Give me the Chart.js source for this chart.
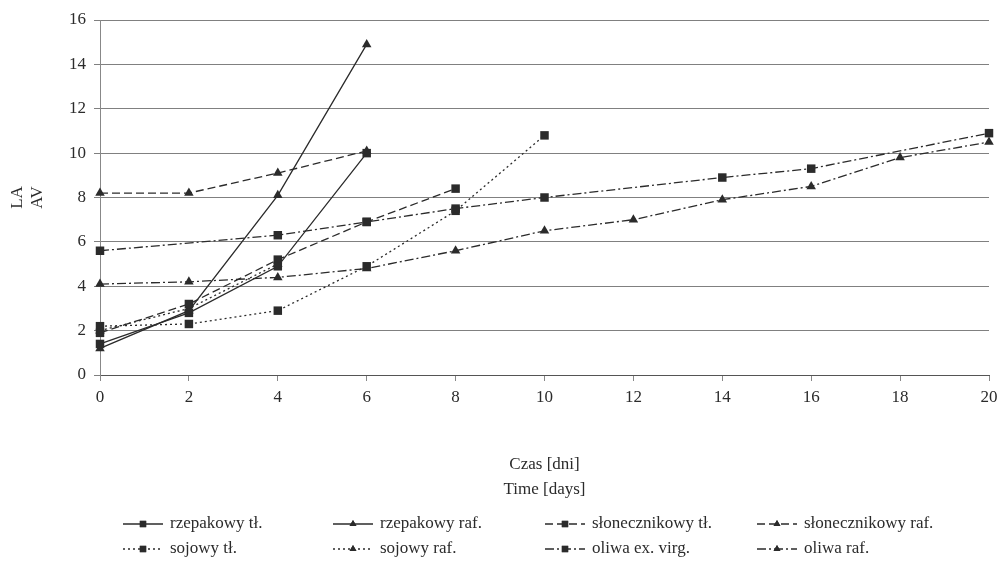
<!DOCTYPE html>
<html>
<head>
<meta charset="utf-8">
<script src="https://cdn.jsdelivr.net/npm/chart.js@4/dist/chart.umd.min.js"></script>
<style>
	body { margin: 0; background: #fff; }
	#chart { display: block; }
</style>
</head>
<body>
<canvas id="chart" width="1000" height="567"></canvas>
<script>
// data
var days = [0, 2, 4, 6, 8, 10, 12, 14, 16, 18, 20];
var yTicks = [0, 2, 4, 6, 8, 10, 12, 14, 16];
var names = ["rzepakowy tł.", "rzepakowy raf.", "słonecznikowy tł.", "słonecznikowy raf.",
	"sojowy tł.", "sojowy raf.", "oliwa ex. virg.", "oliwa raf."];
var rzepakowyTl = [1.4, 2.8, 4.9, 10.0];
var rzepakowyRaf = [1.2, 2.9, 8.1, 14.9];
var slonecznikowyTl = [1.9, 3.2, 5.2, 6.9, 8.4];
var slonecznikowyRaf = [8.2, 8.2, 9.1, 10.1];
var sojowyTl = [2.2, 2.3, 2.9, 4.9, 7.4, 10.8];
var sojowyRaf = [2.0, 3.0, 5.0];
var oliwaEx = [5.6, null, 6.3, 6.9, 7.5, 8.0, null, 8.9, 9.3, null, 10.9];
var oliwaRaf = [4.1, 4.2, 4.4, 4.8, 5.6, 6.5, 7.0, 7.9, 8.5, 9.8, 10.5];
var xTitle = ["Czas [dni]", "Time [days]"];
var yTitle = ["LA", "AV"];

// styles
var ink = "#2b2b2b";
var font = "'Liberation Serif', 'DejaVu Serif', serif";
var dashes = {
	solid: [],
	dash: [8, 4],
	dot: [2, 3],
	dashdot: [9, 3, 2, 3]
};

function makeSet(i, values, dash, marker) {
	return {
		label: names[i],
		data: values,
		borderColor: ink,
		backgroundColor: ink,
		borderWidth: 1.3,
		borderDash: dashes[dash],
		pointStyle: marker,
		pointRadius: marker == "rect" ? 6 : 5.5,
		pointBorderWidth: 0,
		pointBackgroundColor: ink,
		tension: 0,
		spanGaps: true,
		fill: false
	};
}

var sets = [
	makeSet(0, rzepakowyTl, "solid", "rect"),
	makeSet(1, rzepakowyRaf, "solid", "triangle"),
	makeSet(2, slonecznikowyTl, "dash", "rect"),
	makeSet(3, slonecznikowyRaf, "dash", "triangle"),
	makeSet(4, sojowyTl, "dot", "rect"),
	makeSet(5, sojowyRaf, "dot", "triangle"),
	makeSet(6, oliwaEx, "dashdot", "rect"),
	makeSet(7, oliwaRaf, "dashdot", "triangle")
];

// titles + legend drawn by hand (4 columns, 2 rows)
var extras = {
	id: "extras",
	afterDraw: function(chart) {
		var c = chart.ctx;
		var area = chart.chartArea;
		c.save();
		c.fillStyle = ink;
		c.font = "17px " + font;
		c.textAlign = "center";
		c.textBaseline = "middle";
		var cx = (area.left + area.right) / 2;
		c.fillText(xTitle[0], cx, 465);
		c.fillText(xTitle[1], cx, 490);

		c.save();
		c.translate(28, (area.top + area.bottom) / 2);
		c.rotate(-Math.PI / 2);
		c.fillText(yTitle[0], 0, -10);
		c.fillText(yTitle[1], 0, 10);
		c.restore();

		var colX = [123, 333, 545, 757];
		var rowY = [524, 549];
		c.textAlign = "left";
		chart.data.datasets.forEach(function(ds, i) {
			var x = colX[i % 4];
			var y = rowY[Math.floor(i / 4)];
			c.strokeStyle = ink;
			c.lineWidth = 1.3;
			c.setLineDash(ds.borderDash);
			c.beginPath();
			c.moveTo(x, y);
			c.lineTo(x + 40, y);
			c.stroke();
			c.setLineDash([]);
			Chart.helpers.drawPoint(c, { pointStyle: ds.pointStyle, radius: ds.pointStyle == "rect" ? 4.5 : 4, borderWidth: 0 }, x + 20, y);
			c.fill();
			c.fillText(ds.label, x + 47, y);
		});
		c.restore();
	}
};

var chart = new Chart(document.getElementById("chart"), {
	type: "line",
	data: { labels: days, datasets: sets },
	options: {
		responsive: false,
		devicePixelRatio: 1,
		animation: false,
		layout: { padding: { left: 0, top: 20, right: 11, bottom: 0 } },
		plugins: {
			legend: { display: false },
			tooltip: { enabled: false }
		},
		scales: {
			x: {
				type: "category",
				offset: false,
				afterFit: function(s) { s.height = 192; s.paddingRight = 0; },
				grid: { drawOnChartArea: false, color: "#888", tickLength: 6 },
				border: { color: "#555", width: 1 },
				ticks: { color: ink, font: { family: font, size: 17 }, padding: 6, maxRotation: 0, autoSkip: false }
			},
			y: {
				min: yTicks[0],
				max: yTicks[yTicks.length - 1],
				afterFit: function(s) { s.width = 100; },
				afterBuildTicks: function(s) { s.ticks = yTicks.map(function(v) { return { value: v }; }); },
				grid: { color: "#808080", tickLength: 6 },
				border: { color: "#888", width: 1 },
				ticks: { color: ink, font: { family: font, size: 17 }, padding: 8 }
			}
		}
	},
	plugins: [extras]
});
</script>
</body>
</html>
